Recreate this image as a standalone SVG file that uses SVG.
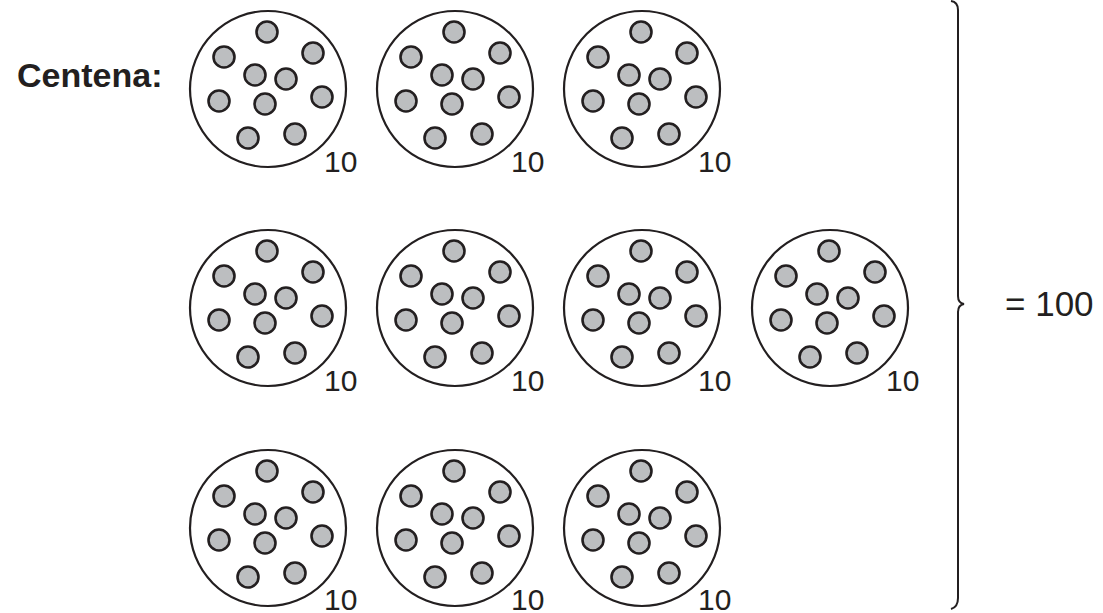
<svg xmlns="http://www.w3.org/2000/svg" xmlns:xlink="http://www.w3.org/1999/xlink" width="1103" height="613" viewBox="0 0 1103 613">
<style>
.big{fill:#fff;stroke:#231f20;stroke-width:2.2}
.dot{fill:#bcbec0;stroke:#231f20;stroke-width:2.6}
.n{font-family:"Liberation Sans",Arial,sans-serif;font-size:30px;fill:#231f20}
.t{font-family:"Liberation Sans",Arial,sans-serif;fill:#231f20}
.brace{fill:none;stroke:#231f20;stroke-width:2}
</style>
<defs>
<g id="bag">
<circle class="big" cx="0" cy="0" r="78"/>
<circle class="dot" cx="-1" cy="-57" r="10.5"/>
<circle class="dot" cx="-44" cy="-32" r="10.5"/>
<circle class="dot" cx="45" cy="-36" r="10.5"/>
<circle class="dot" cx="-13" cy="-14" r="10.5"/>
<circle class="dot" cx="18" cy="-10" r="10.5"/>
<circle class="dot" cx="-49" cy="12" r="10.5"/>
<circle class="dot" cx="-3" cy="15" r="10.5"/>
<circle class="dot" cx="54" cy="8" r="10.5"/>
<circle class="dot" cx="-20" cy="49" r="10.5"/>
<circle class="dot" cx="27" cy="45" r="10.5"/>
</g>
</defs>
<rect width="1103" height="613" fill="#fff"/>
<text id="title" class="t" x="17" y="87" font-size="34" font-weight="bold">Centena:</text>
<g id="bag-r1c1" transform="translate(268,89)"><use xlink:href="#bag" href="#bag"/><text class="n" x="56" y="83">10</text></g>
<g id="bag-r1c2" transform="translate(455,89)"><use xlink:href="#bag" href="#bag"/><text class="n" x="56" y="83">10</text></g>
<g id="bag-r1c3" transform="translate(642,89)"><use xlink:href="#bag" href="#bag"/><text class="n" x="56" y="83">10</text></g>
<g id="bag-r2c1" transform="translate(268,308)"><use xlink:href="#bag" href="#bag"/><text class="n" x="56" y="83">10</text></g>
<g id="bag-r2c2" transform="translate(455,308)"><use xlink:href="#bag" href="#bag"/><text class="n" x="56" y="83">10</text></g>
<g id="bag-r2c3" transform="translate(642,308)"><use xlink:href="#bag" href="#bag"/><text class="n" x="56" y="83">10</text></g>
<g id="bag-r2c4" transform="translate(830,308)"><use xlink:href="#bag" href="#bag"/><text class="n" x="56" y="83">10</text></g>
<g id="bag-r3c1" transform="translate(268,528)"><use xlink:href="#bag" href="#bag"/><text class="n" x="56" y="82">10</text></g>
<g id="bag-r3c2" transform="translate(455,528)"><use xlink:href="#bag" href="#bag"/><text class="n" x="56" y="82">10</text></g>
<g id="bag-r3c3" transform="translate(642,528)"><use xlink:href="#bag" href="#bag"/><text class="n" x="56" y="82">10</text></g>
<g id="connectors">
<path class="brace" d="M951,1 Q958,2 958,10 L958,296 Q958,303 964,304 Q958,305 958,312 L958,598 Q958,607 951,609"/>
</g>
<text id="total" class="t" x="1005" y="316" font-size="35">= 100</text>
</svg>
